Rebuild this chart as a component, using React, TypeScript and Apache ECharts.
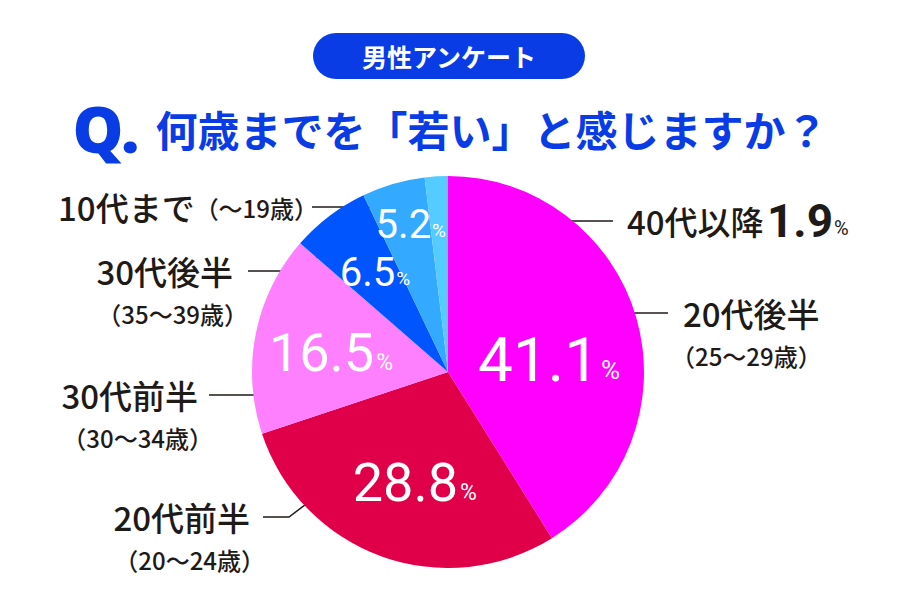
import React, { useEffect, useRef } from "react";
import * as echarts from "echarts";

// ---- data ----
const categories = ["20代後半", "20代前半", "30代前半", "30代後半", "10代まで", "40代以降"];
const ageRanges = ["（25〜29歳）", "（20〜24歳）", "（30〜34歳）", "（35〜39歳）", "（〜19歳）", ""];
const values = [41.1, 28.8, 16.5, 6.5, 5.2, 1.9];
const badgeText = "男性アンケート";
const questionMark = "Q.";
const questionText = "何歳までを「若い」と感じますか？";

// ---- styles / layout ----
const colors = ["#ff00ff", "#e0004a", "#ff80ff", "#0055ff", "#33aaff", "#55ccff"];
const innerSize = ["big", "mid", "mid", "sm", "sm", ""];
const innerOffset: number[][] = [[4, 15], [1, 15], [-18, 0], [-12, -19], [-9, -51], [0, 0]];
const outerLayout = [
  { x: 671, y: 293, align: "left", nPad: [0, 0, 0, 12], line: [[605, 313], [636, 313], [668, 313]] },
  { x: 265, y: 497, align: "right", nPad: [0, 15, 0, 0], line: [[330, 486], [289, 517], [263, 517]] },
  { x: 213, y: 375, align: "right", nPad: [0, 15, 0, 0], line: [[276, 395], [242, 395], [209, 395]] },
  { x: 248, y: 251, align: "right", nPad: [0, 15, 0, 0], line: [[332, 243], [303, 271], [248, 271]] },
  { x: 318, y: 185, align: "right", nPad: [0, 0, 0, 0], line: [[374, 207], [343, 207], [312, 207]] },
  { x: 627, y: 194, align: "left", nPad: [0, 0, 0, 0], line: [[441, 268], [482, 221], [613, 221]] },
];

const BLUE = "#0a3ce6";
const INK = "#1e1a18";
const CJK = '"Noto Sans CJK JP", "Noto Sans", sans-serif';
const NUM = 'Roboto, "Liberation Sans", sans-serif';

export default function App() {
  const ref = useRef<HTMLDivElement>(null);
  useEffect(() => {
    document.body.style.margin = "0";
    const chart = echarts.init(ref.current!, null, { renderer: "svg" });

    const innerData = values.map((v, i) => ({
      value: v,
      name: categories[i],
      itemStyle: { color: colors[i] },
      label: innerSize[i]
        ? {
            show: true,
            offset: innerOffset[i],
            formatter: `{${innerSize[i]}|${v.toFixed(1)}}{p${innerSize[i]}|%}`,
          }
        : { show: false },
    }));

    const outerData = values.map((v, i) => {
      const L = outerLayout[i];
      const nKey = `n${i}`;
      let fmt = "";
      if (i === 5) fmt = `{${nKey}|${categories[i]}} {b|${v.toFixed(1)}}{bp|%}`;
      else if (i === 4) fmt = `{${nKey}|${categories[i]}}{s|${ageRanges[i]}}`;
      else fmt = `{${nKey}|${categories[i]}}\n{s|${ageRanges[i]}}`;
      return {
        value: v,
        name: categories[i],
        label: {
          formatter: fmt,
          rich: {
            [nKey]: {
              fontSize: 33,
              fontFamily: CJK,
              color: INK,
              lineHeight: 40,
              fontWeight: 500,
              padding: L.nPad,
            },
            s: { fontSize: 24, fontFamily: CJK, color: INK, lineHeight: 44, fontWeight: 500 },
            b: { fontSize: 46, fontFamily: NUM, fontWeight: "bold", color: INK, lineHeight: 54 },
            bp: { fontSize: 20, fontFamily: NUM, color: INK, padding: [14, 0, 0, 1] },
          },
        },
      };
    });

    chart.setOption({
      animation: false,
      title: {
        text: `{q|${questionMark}}{t|${questionText}}`,
        left: "center",
        top: 98,
        padding: 0,
        textStyle: {
          rich: {
            q: {
              fontSize: 64,
              fontWeight: 900,
              fontFamily: '"Noto Sans", sans-serif',
              color: BLUE,
              lineHeight: 60,
              padding: [0, 16, 0, 0],
            },
            t: {
              fontSize: 42,
              fontWeight: "bold",
              fontFamily: CJK,
              color: BLUE,
              lineHeight: 60,
            },
          },
        },
      },
      graphic: [
        {
          type: "rect",
          shape: { x: 313, y: 33, width: 272, height: 46, r: 23 },
          style: { fill: BLUE },
        },
        {
          type: "text",
          x: 449,
          y: 56,
          style: {
            text: badgeText,
            fill: "#ffffff",
            fontSize: 25,
            fontWeight: "bold",
            fontFamily: CJK,
            align: "center",
            verticalAlign: "middle",
          },
        },
      ],
      series: [
        {
          type: "pie",
          center: [448, 372],
          radius: [0, 196],
          startAngle: 90,
          clockwise: true,
          silent: true,
          itemStyle: { borderWidth: 0 },
          label: {
            position: "inside",
            color: "#ffffff",
            rich: {
              big: { fontSize: 62, fontFamily: NUM, color: "#fff", lineHeight: 62 },
              pbig: { fontSize: 26, fontFamily: NUM, color: "#fff", padding: [22, 0, 0, 2] },
              mid: { fontSize: 54, fontFamily: NUM, color: "#fff", lineHeight: 54 },
              pmid: { fontSize: 23, fontFamily: NUM, color: "#fff", padding: [20, 0, 0, 2] },
              sm: { fontSize: 40, fontFamily: NUM, color: "#fff", lineHeight: 40 },
              psm: { fontSize: 19, fontFamily: NUM, color: "#fff", padding: [12, 0, 0, 1] },
            },
          },
          labelLine: { show: false },
          data: innerData,
        },
        {
          type: "pie",
          center: [448, 372],
          radius: [0, 196],
          startAngle: 90,
          clockwise: true,
          silent: true,
          avoidLabelOverlap: false,
          itemStyle: { color: "rgba(0,0,0,0)", borderWidth: 0 },
          label: {
            show: true,
            position: "outside",
            color: INK,
          },
          labelLine: {
            show: true,
            lineStyle: { color: INK, width: 1.5 },
          },
          labelLayout: (params: any) => {
            const L = outerLayout[params.dataIndex];
            return {
              x: L.x,
              y: L.y,
              align: L.align,
              verticalAlign: "top",
              labelLinePoints: L.line,
            };
          },
          data: outerData,
        },
      ],
    });
    return () => chart.dispose();
  }, []);
  return (
    <div
      ref={ref}
      style={{ position: "fixed", left: 0, top: 0, width: 900, height: 600, background: "#fff" }}
    />
  );
}
